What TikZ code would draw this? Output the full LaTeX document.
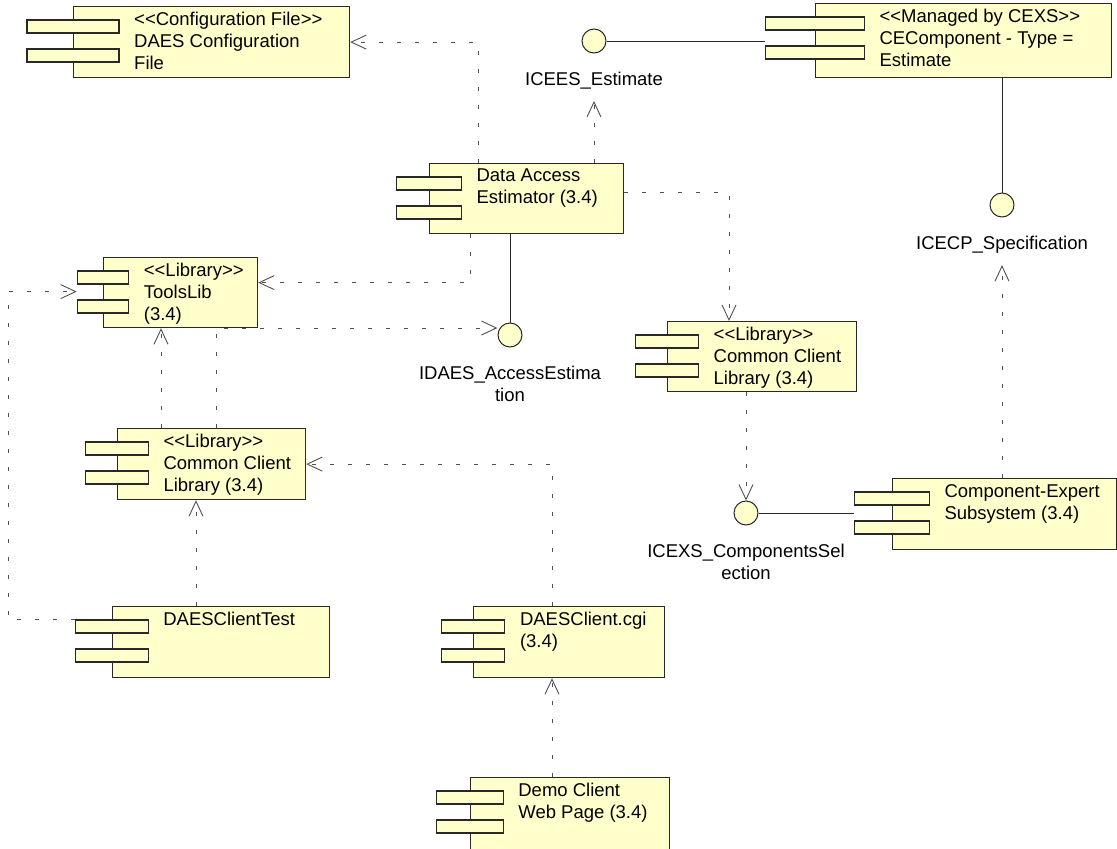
\documentclass[tikz,border=0pt]{standalone}
\usepackage{fontspec}
\setmainfont{Liberation Sans}
\usetikzlibrary{arrows.meta,positioning}
\definecolor{compfill}{RGB}{255,255,204}
\definecolor{depgray} {RGB}{80,80,80}
\definecolor{edgeblk} {RGB}{40,40,40}
\newcommand{\stereo}[1]{<{}<#1>{}>}
% name, x, y, width, height, text
\newcommand{\umlcomp}[6]{%
  \node[comp, minimum width=#4, minimum height=#5] (#1) at (#2,#3) {};
  \node[comptab, minimum width=#4/3] (#1-a) at ([yshift=-20.5]#1.north west) {};
  \node[comptab, minimum width=#4/3] (#1-b) at ([yshift=-49.5]#1.north west) {};
  \node[comptext] (#1-txt) at ([xshift={#4/6+15}, yshift=-6]#1.north west) {#6};
}

\begin{document}
\begin{tikzpicture}[
  x=1pt, y=-1pt,
  font=\fontsize{18.5}{22}\selectfont,
  comp/.style={rectangle, draw=edgeblk, fill=compfill, line width=1.2pt,
               anchor=north west, inner sep=0pt},
  comptab/.style={rectangle, draw=edgeblk, fill=compfill, line width=1.2pt,
               minimum height=13, inner sep=0pt},
  comptext/.style={anchor=north west, align=left, inner sep=0pt},
  iface/.style={circle, draw=edgeblk, fill=compfill, line width=1pt,
               minimum size=24, inner sep=0pt},
  iflabel/.style={align=center, inner sep=0pt},
  dep/.style={draw=depgray, line width=0.9pt, dash pattern=on 4pt off 14pt,
              -{Straight Barb[length=15pt,width=14pt]}},
  link/.style={draw=edgeblk, line width=1pt},
]
\useasboundingbox (0,0) rectangle (1117,849);

% Components
\umlcomp{config}{73}{6}{276}{71}{\stereo{Configuration File}\\DAES Configuration\\File}
\umlcomp{ceco}{815}{3}{296}{74}{\stereo{Managed by CEXS}\\CEComponent - Type =\\Estimate}
\umlcomp{dae}{429}{163}{194}{70}{Data Access\\Estimator (3.4)}
\umlcomp{tools}{103}{257}{154}{70}{\stereo{Library}\\ToolsLib\\(3.4)}
\umlcomp{ccr}{667}{321}{189}{70}{\stereo{Library}\\Common Client\\Library (3.4)}
\umlcomp{ccl}{117}{428}{188}{71}{\stereo{Library}\\Common Client\\Library (3.4)}
\umlcomp{cexp}{892}{478}{224}{71}{Component-Expert\\Subsystem (3.4)}
\umlcomp{test}{112}{606}{217}{71}{DAESClientTest}
\umlcomp{cgi}{473}{606}{191}{71}{DAESClient.cgi\\(3.4)}
\umlcomp{demo}{470}{777}{199}{76}{Demo Client\\Web Page (3.4)}

% Interfaces
\node[iface] (icees) at (594,41) {};
\node[iflabel, below=18pt of icees] (icees-lbl) {ICEES\_Estimate};
\node[iface] (icecp) at (1002,205) {};
\node[iflabel, below=18pt of icecp] (icecp-lbl) {ICECP\_Specification};
\node[iface] (idaes) at (510,335) {};
\node[iflabel, below=18pt of idaes] (idaes-lbl) {IDAES\_AccessEstima\\tion};
\node[iface] (icexs) at (746,513) {};
\node[iflabel, below=18pt of icexs] (icexs-lbl) {ICEXS\_ComponentsSel\\ection};

\coordinate (lft) at (8,0);

% Realisations
\draw[link] (icees) -- (icees -| ceco-a.west);
\draw[link] (icecp |- ceco.south) -- (icecp);
\draw[link] (idaes |- dae.south) -- (idaes);
\draw[link] (icexs) -- (icexs -| cexp-a.west);

% Dependencies
\draw[dep] ([xshift=49]dae.north west) |- (config.east);
\draw[dep] (dae.north -| icees) -- ([yshift=-12]icees-lbl.south);
\draw[dep] ([yshift=6]dae.east) -| ([xshift=62]ccr.north west);
\draw[dep] ([xshift=41]dae.south west) |- ([yshift=10]tools.east);
\draw[dep] (icexs |- ccr.south) -- (icexs);
\draw[dep] (icecp-lbl |- cexp.north) -- ([yshift=-12]icecp-lbl.south);
\draw[dep] ([xshift=44]ccl.north west) -- ([xshift=58]tools.south west);
\draw[dep] ([xshift=99]ccl.north west) |- ([yshift=7]idaes.west);
\draw[dep] ([xshift=84]test.north west) -- ([xshift=79]ccl.south west);
\draw[dep] ([xshift=79]cgi.north west) |- (ccl.east);
\draw[dep] ([xshift=82]demo.north west) -- ([xshift=79]cgi.south west);
\draw[dep] (test-a.north west) -- (test-a.north west -| lft)
           |- ([yshift=-7]tools-a.south west);

\end{tikzpicture}
\end{document}
